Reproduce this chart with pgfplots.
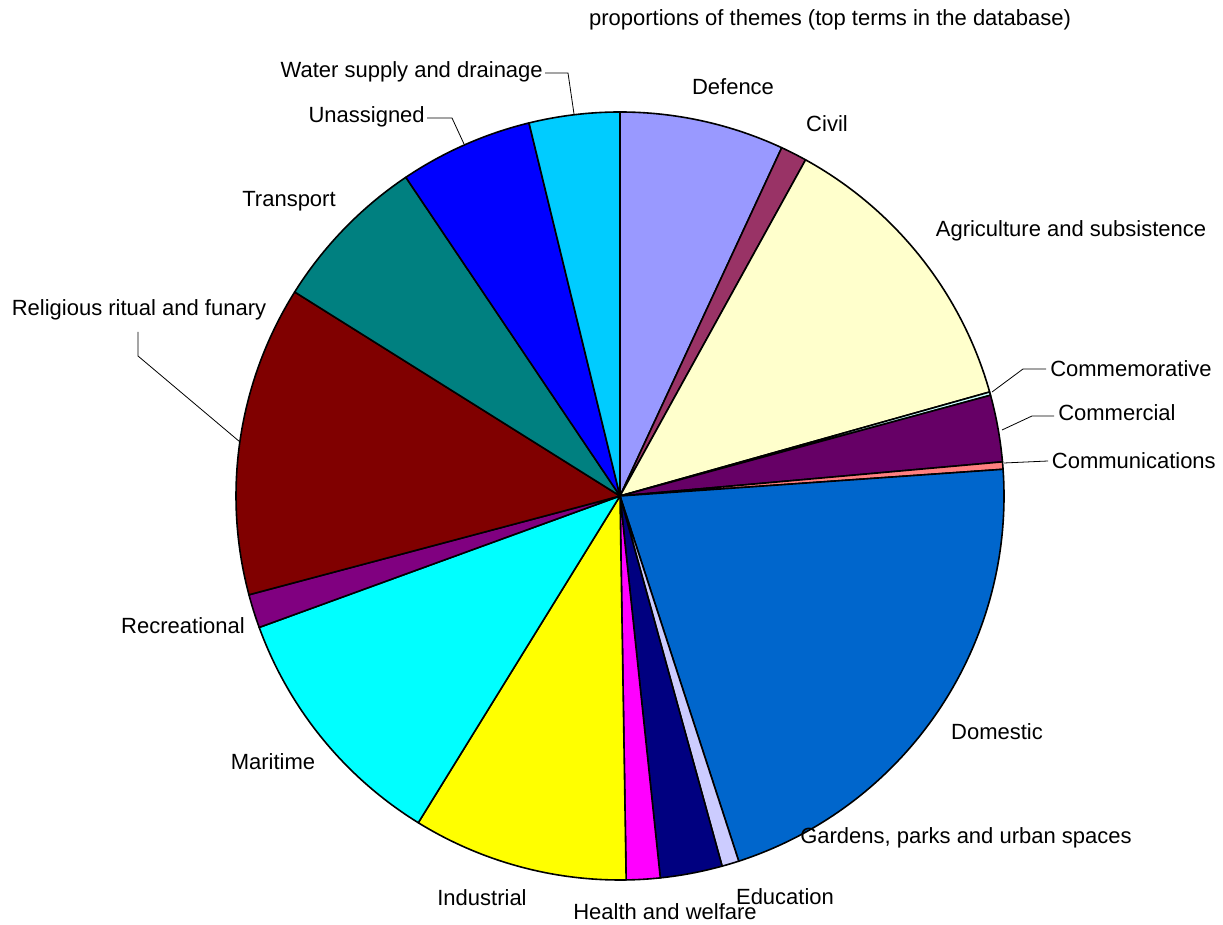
\documentclass[border=0pt]{standalone}
\usepackage{fontspec}
\setmainfont{Liberation Sans}
\usepackage{pgfplots}
\usepackage{pgfplotstable}
\pgfplotsset{compat=1.18}

% Excel 2003 palette
\definecolor{cDef}{HTML}{9999FF}
\definecolor{cCiv}{HTML}{993366}
\definecolor{cAgr}{HTML}{FFFFCC}
\definecolor{cCmm}{HTML}{CCFFFF}
\definecolor{cCom}{HTML}{660066}
\definecolor{cCms}{HTML}{FF8080}
\definecolor{cDom}{HTML}{0066CC}
\definecolor{cGar}{HTML}{CCCCFF}
\definecolor{cEdu}{HTML}{000080}
\definecolor{cHea}{HTML}{FF00FF}
\definecolor{cInd}{HTML}{FFFF00}
\definecolor{cMar}{HTML}{00FFFF}
\definecolor{cRec}{HTML}{800080}
\definecolor{cRel}{HTML}{800000}
\definecolor{cTra}{HTML}{008080}
\definecolor{cUna}{HTML}{0000FF}
\definecolor{cWat}{HTML}{00CCFF}

% share of each theme (%), clockwise from the top
\pgfplotstableread{
theme value color
Defence 6.92 cDef
Civil 1.11 cCiv
Agriculture 12.61 cAgr
Commemorative 0.14 cCmm
Commercial 2.81 cCom
Communications 0.31 cCms
Domestic 21.11 cDom
Gardens 0.72 cGar
Education 2.61 cEdu
Health 1.42 cHea
Industrial 9.06 cInd
Maritime 10.64 cMar
Recreational 1.42 cRec
Religious 13.06 cRel
Transport 6.67 cTra
Unassigned 5.61 cUna
Water 3.81 cWat
}\pietable

\newcommand{\pcx}{620}
\newcommand{\pcy}{-496}
\newcommand{\pr}{384}

\tikzset{lbl/.style={font=\fontsize{16.5}{19}\selectfont, inner sep=0pt}}

\begin{document}
\begin{tikzpicture}
\begin{axis}[
    x=0.75pt, y=0.75pt,
    xmin=0, xmax=1223, ymin=-924, ymax=0,
    hide axis, clip=false,
]
\path (rel axis cs:0,0) rectangle (rel axis cs:1,1);

\pgfplotsextra{
  \pgfplotstablegetrowsof{\pietable}
  \pgfmathtruncatemacro\nrows{\pgfplotsretval-1}
  \gdef\total{0}
  \foreach \i in {0,...,\nrows}{%
    \pgfplotstablegetelem{\i}{value}\of\pietable
    \pgfmathsetmacro\tmp{\total+\pgfplotsretval}
    \xdef\total{\tmp}
  }
  \gdef\cum{0}
  \foreach \i in {0,...,\nrows}{%
    \pgfplotstablegetelem{\i}{value}\of\pietable
    \pgfmathsetmacro\val{\pgfplotsretval}
    \pgfplotstablegetelem{\i}{color}\of\pietable
    \edef\col{\pgfplotsretval}
    \pgfmathsetmacro\angA{\cum/\total*360}
    \pgfmathsetmacro\angB{(\cum+\val)/\total*360}
    \fill[\col, draw=black, line width=1.2pt, line join=round]
      (axis cs:\pcx,\pcy) -- (axis cs:{\pcx+\pr*sin(\angA)},{\pcy+\pr*cos(\angA)})
      arc[start angle={90-\angA}, end angle={90-\angB}, radius=288pt] -- cycle;
    \pgfmathsetmacro\tmp{\cum+\val}
    \xdef\cum{\tmp}
  }
}

% title
\node[lbl] at (axis cs:830,-20) {proportions of themes (top terms in the database)};

% slice labels
\node[lbl] at (axis cs:733,-87) {Defence};
\node[lbl] at (axis cs:827,-124) {Civil};
\node[lbl] at (axis cs:1071,-231) {Agriculture and subsistence};
\node[lbl, anchor=west] at (axis cs:1050,-369) {Commemorative};
\node[lbl, anchor=west] at (axis cs:1058,-413) {Commercial};
\node[lbl, anchor=east] at (axis cs:1216,-461) {Communications};
\node[lbl] at (axis cs:997,-732) {Domestic};
\node[lbl, anchor=west] at (axis cs:800,-838) {Gardens, parks and urban spaces};
\node[lbl] at (axis cs:785,-897) {Education};
\node[lbl] at (axis cs:665,-912) {Health and welfare};
\node[lbl] at (axis cs:482,-898) {Industrial};
\node[lbl] at (axis cs:273,-762) {Maritime};
\node[lbl] at (axis cs:183,-626) {Recreational};
\node[lbl] at (axis cs:139,-310) {Religious ritual and funary};
\node[lbl] at (axis cs:289,-201) {Transport};
\node[lbl, anchor=east] at (axis cs:425,-117) {Unassigned};
\node[lbl, anchor=east] at (axis cs:543,-72) {Water supply and drainage};

% leader lines
\draw[line width=0.6pt] (axis cs:992,-392) -- (axis cs:1023,-369) -- (axis cs:1046,-369);
\draw[line width=0.6pt] (axis cs:1002,-430) -- (axis cs:1032,-416) -- (axis cs:1054,-416);
\draw[line width=0.6pt] (axis cs:1004,-463) -- (axis cs:1048,-461);
\draw[line width=0.6pt] (axis cs:240,-442) -- (axis cs:138,-356) -- (axis cs:138,-332);
\draw[line width=0.6pt] (axis cs:464,-144) -- (axis cs:452,-118) -- (axis cs:427,-118);
\draw[line width=0.6pt] (axis cs:574,-114) -- (axis cs:568,-73) -- (axis cs:545,-73);
\end{axis}
\end{tikzpicture}
\end{document}
